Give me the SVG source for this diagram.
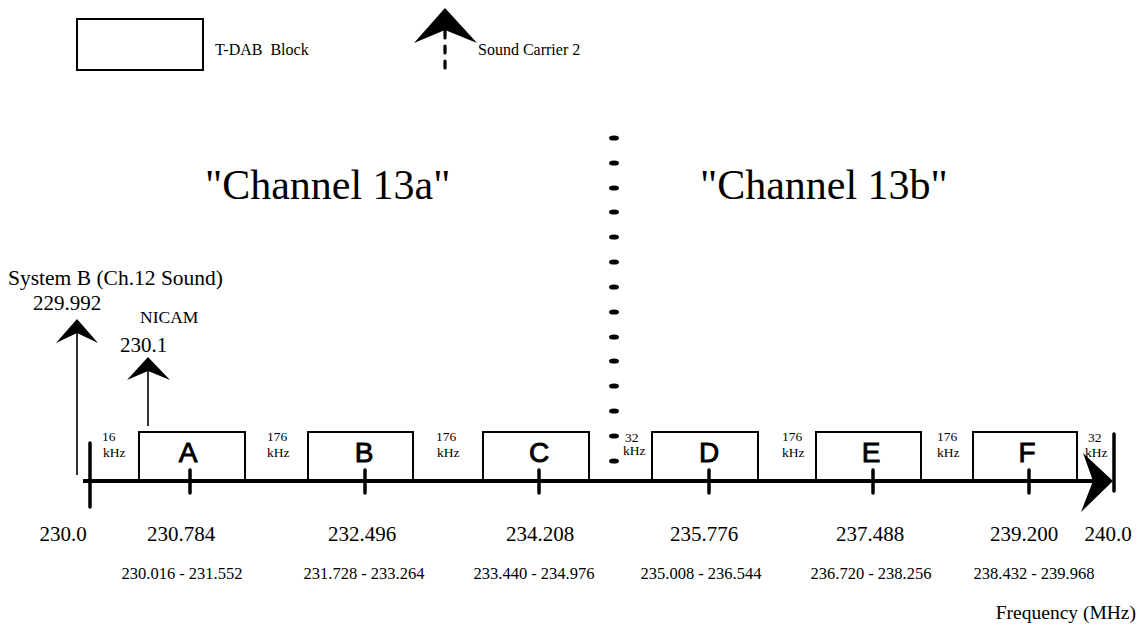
<svg xmlns="http://www.w3.org/2000/svg" width="1142" height="631" viewBox="0 0 1142 631">
<style>
.serif{font-family:"Liberation Serif","Times New Roman",serif;fill:#000}
.big{font-size:21px}
.rng{font-size:16.5px}
.khz{font-size:13.5px}
.leg{font-size:16px}
.title{font-size:42px}
.blk{fill:#fff;stroke:#000;stroke-width:2}
.letter{font-family:"Liberation Sans",Arial,sans-serif;font-size:28px;text-anchor:middle;fill:#000;stroke:#000;stroke-width:0.9}
.tick{stroke:#000;stroke-width:3.5;stroke-linecap:round}
.carrier{stroke:#000;stroke-width:1.6;fill:none}
.head{fill:#000;stroke:none}
.dot{fill:#000}
</style>
<rect width="1142" height="631" fill="#fff"/>

<g id="legend">
  <rect x="77" y="19" width="126" height="51" class="blk"/>
  <text x="215" y="55" class="serif leg" xml:space="preserve">T-DAB  Block</text>
  <line x1="445" y1="31" x2="445" y2="70" stroke="#000" stroke-width="3.2" stroke-dasharray="7 8" stroke-linecap="round"/>
  <polygon points="445,8 477,43 445,30 414,43" class="head"/>
  <text x="478" y="55" class="serif leg">Sound Carrier 2</text>
</g>

<g id="titles">
  <text x="205" y="199" class="serif title">"Channel 13a"</text>
  <text x="700" y="199" class="serif title">"Channel 13b"</text>
</g>

<g id="divider">
  <ellipse cx="614" cy="138" rx="5" ry="2.6" class="dot"/>
  <ellipse cx="614" cy="163" rx="5" ry="2.6" class="dot"/>
  <ellipse cx="614" cy="188" rx="5" ry="2.6" class="dot"/>
  <ellipse cx="614" cy="212" rx="5" ry="2.6" class="dot"/>
  <ellipse cx="614" cy="237" rx="5" ry="2.6" class="dot"/>
  <ellipse cx="614" cy="262" rx="5" ry="2.6" class="dot"/>
  <ellipse cx="614" cy="287" rx="5" ry="2.6" class="dot"/>
  <ellipse cx="614" cy="312" rx="5" ry="2.6" class="dot"/>
  <ellipse cx="614" cy="337" rx="5" ry="2.6" class="dot"/>
  <ellipse cx="614" cy="361" rx="5" ry="2.6" class="dot"/>
  <ellipse cx="614" cy="386" rx="5" ry="2.6" class="dot"/>
  <ellipse cx="614" cy="411" rx="5" ry="2.6" class="dot"/>
  <ellipse cx="614" cy="436" rx="5" ry="2.6" class="dot"/>
  <ellipse cx="614" cy="461" rx="5" ry="2.6" class="dot"/>
</g>

<g id="carrier-systemB">
  <text x="8" y="285" class="serif" font-size="21.5">System B (Ch.12 Sound)</text>
  <text x="33" y="310" class="serif big">229.992</text>
</g>
<g id="carrier-nicam">
  <text x="140" y="323" class="serif" font-size="17.5">NICAM</text>
  <text x="120" y="352" class="serif big">230.1</text>
</g>

<g id="block-A">
  <rect x="139" y="432" width="106" height="49" class="blk"/>
  <text x="188" y="462" class="letter">A</text>
</g>
<g id="block-B">
  <rect x="308" y="432" width="105" height="49" class="blk"/>
  <text x="364" y="462" class="letter">B</text>
</g>
<g id="block-C">
  <rect x="483" y="432" width="106" height="49" class="blk"/>
  <text x="539" y="462" class="letter">C</text>
</g>
<g id="block-D">
  <rect x="652" y="432" width="106" height="49" class="blk"/>
  <text x="709" y="462" class="letter">D</text>
</g>
<g id="block-E">
  <rect x="816" y="432" width="105" height="49" class="blk"/>
  <text x="871" y="462" class="letter">E</text>
</g>
<g id="block-F">
  <rect x="973" y="432" width="104" height="49" class="blk"/>
  <text x="1027" y="462" class="letter">F</text>
</g>

<g id="gaps" class="serif khz">
  <text x="102" y="441">16</text><text x="103" y="457">kHz</text>
  <text x="267" y="441">176</text><text x="267" y="457">kHz</text>
  <text x="436" y="441">176</text><text x="437" y="457">kHz</text>
  <text x="625" y="442">32</text><text x="623" y="455">kHz</text>
  <text x="782" y="441">176</text><text x="782" y="457">kHz</text>
  <text x="937" y="441">176</text><text x="937" y="457">kHz</text>
  <text x="1088" y="442">32</text><text x="1085" y="457">kHz</text>
</g>

<g id="connectors">
  <line x1="83" y1="481" x2="1100" y2="481" stroke="#000" stroke-width="4"/>
  <line x1="90" y1="443" x2="90" y2="507" class="tick" stroke-width="4"/>
  <line x1="1114" y1="434" x2="1114" y2="491" class="tick" stroke-width="4"/>
  <polygon points="1113,481 1081,512 1093,481 1083,453" class="head"/>
  <line x1="190" y1="470" x2="190" y2="493" class="tick"/>
  <line x1="365" y1="470" x2="365" y2="493" class="tick"/>
  <line x1="539" y1="470" x2="539" y2="493" class="tick"/>
  <line x1="709" y1="470" x2="709" y2="493" class="tick"/>
  <line x1="873" y1="470" x2="873" y2="493" class="tick"/>
  <line x1="1029" y1="470" x2="1029" y2="493" class="tick"/>
  <line x1="77" y1="333" x2="77" y2="475" class="carrier"/>
  <polygon points="77,319 98,343 77,333 56,343" class="head"/>
  <line x1="148" y1="371" x2="148" y2="426" class="carrier"/>
  <polygon points="148,357 170,380 148,371 127,380" class="head"/>
</g>

<g id="axis-labels" class="serif" text-anchor="middle">
  <text x="63" y="541" class="big">230.0</text>
  <text x="181" y="541" class="big">230.784</text>
  <text x="362" y="541" class="big">232.496</text>
  <text x="540" y="541" class="big">234.208</text>
  <text x="704" y="541" class="big">235.776</text>
  <text x="870" y="541" class="big">237.488</text>
  <text x="1024" y="541" class="big">239.200</text>
  <text x="1108" y="541" class="big">240.0</text>
  <text x="182" y="579" class="rng">230.016 - 231.552</text>
  <text x="364" y="579" class="rng">231.728 - 233.264</text>
  <text x="534" y="579" class="rng">233.440 - 234.976</text>
  <text x="701" y="579" class="rng">235.008 - 236.544</text>
  <text x="871" y="579" class="rng">236.720 - 238.256</text>
  <text x="1034" y="579" class="rng">238.432 - 239.968</text>
  <text x="1136" y="619" font-size="19.5" text-anchor="end">Frequency (MHz)</text>
</g>
</svg>
